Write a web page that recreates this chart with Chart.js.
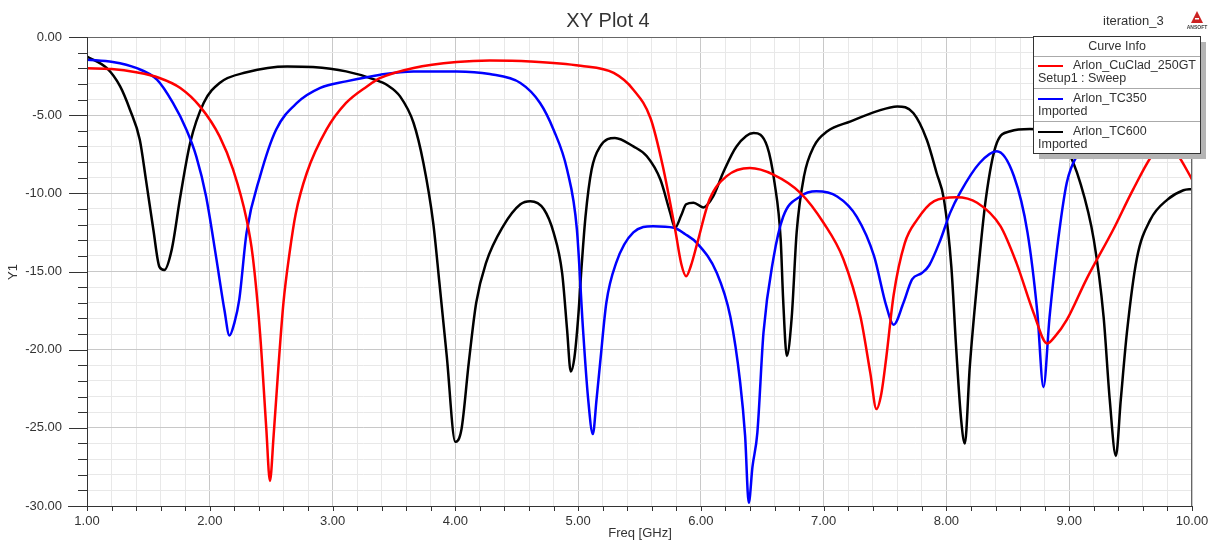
<!DOCTYPE html>
<html>
<head>
<meta charset="utf-8">
<script src="https://cdn.jsdelivr.net/npm/chart.js@4.4.1/dist/chart.umd.min.js"></script>
<style>
html,body{margin:0;padding:0;background:#fff;}
#wrap{width:1212px;height:541px;position:relative;}
</style>
</head>
<body>
<div id="wrap"><canvas id="c" width="1212" height="541"></canvas></div>
<script>
// ---- data (Freq [GHz], Y1 [dB]) ----
const redFreq = [1.0,1.2,1.4,1.59,1.76,1.92,2.08,2.19,2.30,2.35,2.41,2.46,2.49,2.52,2.56,2.60,2.65,2.70,2.79,2.95,3.11,3.28,3.39,3.66,4.01,4.28,4.61,5.02,5.29,5.45,5.59,5.69,5.79,5.84,5.88,5.92,5.97,6.07,6.21,6.40,6.59,6.81,7.00,7.16,7.30,7.38,7.43,7.47,7.51,7.57,7.66,7.76,7.90,8.08,8.25,8.44,8.57,8.71,8.82,8.88,8.98,9.14,9.36,9.52,9.71,9.80,9.88,10.0];
const redVals = [-2.0,-2.05,-2.26,-2.62,-3.26,-4.44,-6.36,-8.49,-11.68,-14.03,-19.0,-25.0,-28.4,-25.5,-21.0,-17.0,-13.8,-11.3,-8.7,-5.93,-4.22,-3.16,-2.62,-1.98,-1.6,-1.5,-1.56,-1.84,-2.3,-3.37,-5.2,-8.27,-12.3,-14.5,-15.3,-14.6,-13.2,-10.4,-8.9,-8.38,-8.8,-9.97,-11.9,-14.2,-17.9,-21.5,-23.8,-22.8,-20.5,-16.5,-13.2,-11.7,-10.5,-10.25,-10.6,-12.1,-14.45,-17.65,-19.6,-19.2,-18.1,-15.5,-12.3,-9.76,-7.2,-6.9,-7.5,-9.1];

const blueFreq = [1.0,1.21,1.40,1.57,1.70,1.81,1.89,1.97,2.05,2.12,2.16,2.20,2.24,2.30,2.41,2.54,2.71,2.90,3.11,3.39,3.66,4.01,4.28,4.53,4.69,4.80,4.91,4.99,5.04,5.08,5.12,5.15,5.18,5.23,5.31,5.45,5.61,5.78,5.87,5.97,6.13,6.24,6.32,6.36,6.39,6.42,6.46,6.51,6.59,6.67,6.81,6.94,7.11,7.27,7.41,7.51,7.57,7.65,7.72,7.80,7.86,7.95,8.03,8.11,8.27,8.41,8.55,8.66,8.74,8.79,8.84,8.90,8.98,9.09,9.20,9.35,9.60,10.0];
const blueVals = [-1.45,-1.6,-1.98,-2.73,-4.22,-5.93,-7.63,-10.2,-14.0,-17.5,-19.1,-18.3,-16.8,-12.5,-8.9,-5.93,-4.22,-3.26,-2.84,-2.41,-2.2,-2.2,-2.37,-2.94,-4.22,-5.93,-8.48,-12.3,-18.7,-23.0,-25.4,-23.2,-20.8,-17.0,-14.45,-12.5,-12.1,-12.2,-12.6,-13.2,-15.1,-17.9,-22.1,-25.5,-29.8,-27.5,-25.3,-18.9,-14.2,-11.5,-10.2,-9.87,-10.2,-11.5,-14.0,-17.2,-18.4,-17.0,-15.5,-15.1,-14.6,-13.0,-11.25,-9.97,-8.06,-7.31,-8.91,-12.5,-17.6,-22.4,-17.9,-13.6,-9.33,-7.2,-5.5,-4.0,-3.2,-3.0];

const blackFreq = [1.0,1.16,1.27,1.35,1.43,1.48,1.54,1.59,1.63,1.69,1.76,1.84,1.95,2.08,2.30,2.63,2.84,3.11,3.33,3.45,3.55,3.66,3.74,3.82,3.87,3.93,4.00,4.05,4.11,4.17,4.25,4.39,4.53,4.61,4.72,4.80,4.87,4.91,4.94,4.97,5.00,5.03,5.06,5.11,5.18,5.30,5.45,5.56,5.67,5.75,5.79,5.84,5.88,5.94,6.02,6.10,6.18,6.29,6.43,6.54,6.60,6.65,6.67,6.70,6.74,6.78,6.84,6.92,7.03,7.22,7.43,7.60,7.73,7.84,7.92,7.98,8.04,8.08,8.12,8.15,8.19,8.25,8.32,8.41,8.52,8.68,8.85,8.97,9.09,9.20,9.28,9.33,9.38,9.42,9.47,9.55,9.66,9.80,9.93,10.0];
const blackVals = [-1.25,-1.98,-3.16,-4.65,-6.57,-9.12,-12.3,-14.7,-14.9,-13.6,-10.2,-6.78,-4.22,-2.94,-2.26,-1.88,-1.92,-2.2,-2.69,-3.1,-3.8,-5.5,-8.06,-11.9,-15.7,-20.4,-25.9,-25.1,-20.8,-17.0,-14.45,-12.1,-10.7,-10.5,-11.0,-12.5,-15.1,-18.7,-21.4,-20.5,-18.0,-14.5,-11.5,-8.48,-7.0,-6.46,-7.0,-7.63,-9.12,-11.25,-12.2,-11.4,-10.7,-10.6,-10.9,-10.2,-8.7,-7.0,-6.14,-7.0,-9.33,-12.96,-16.8,-20.4,-17.9,-12.5,-8.9,-7.0,-6.03,-5.4,-4.76,-4.44,-4.86,-6.57,-8.7,-10.4,-14.7,-20.0,-24.5,-26.0,-21.1,-15.7,-10.4,-6.78,-6.03,-5.88,-6.0,-7.0,-9.33,-12.96,-17.9,-23.2,-26.8,-23.2,-18.9,-14.2,-11.7,-10.4,-9.8,-9.72];

const seriesNames = ['Arlon_CuClad_250GT','Arlon_TC350','Arlon_TC600'];
const seriesSub = ['Setup1 : Sweep','Imported','Imported'];
const seriesColors = ['#ff0000','#0000ff','#000000'];
const yTicks = [0,-5,-10,-15,-20,-25,-30];
const xTicks = [1,2,3,4,5,6,7,8,9,10];

const FONT = '"Liberation Sans", Arial, sans-serif';
const pts = (f, v) => f.map((x, i) => ({x: x, y: v[i]}));
const isInt = v => Math.abs(v - Math.round(v)) < 1e-6;

const decor = {
  id: 'decor',
  afterDraw(chart) {
    const ctx = chart.ctx;
    const a = chart.chartArea;
    const xs = chart.scales.x, ys = chart.scales.y;
    ctx.save();
    // plot frame
    ctx.strokeStyle = '#666';
    ctx.lineWidth = 1;
    ctx.strokeRect(a.left + 0.5, a.top + 0.5, a.right - a.left - 1, a.bottom - a.top);
    // axes
    ctx.strokeStyle = '#333';
    ctx.beginPath();
    ctx.moveTo(a.left + 0.5, a.top); ctx.lineTo(a.left + 0.5, a.bottom + 4);
    ctx.moveTo(a.left - 19, a.bottom + 0.5); ctx.lineTo(a.right, a.bottom + 0.5);
    ctx.stroke();
    // y ticks
    ctx.beginPath();
    for (let v = -30; v <= 0; v += 1) {
      const y = Math.round(ys.getPixelForValue(v)) + 0.5;
      const len = (v % 5 === 0) ? 18 : 9;
      ctx.moveTo(a.left - len, y); ctx.lineTo(a.left, y);
    }
    // x ticks
    for (let i = 0; i <= 45; i++) {
      const f = 1 + i * 0.2;
      const x = Math.round(xs.getPixelForValue(f)) + 0.5;
      ctx.moveTo(x, a.bottom); ctx.lineTo(x, a.bottom + 5);
    }
    ctx.stroke();

    // title & texts
    ctx.fillStyle = '#333';
    ctx.font = '20px ' + FONT;
    ctx.textAlign = 'center'; ctx.textBaseline = 'middle';
    ctx.fillText('XY Plot 4', 608, 21);
    ctx.font = '13px ' + FONT;
    ctx.textAlign = 'left';
    ctx.fillText('iteration_3', 1103, 21);
    ctx.textAlign = 'center';
    ctx.fillText('Freq [GHz]', 640, 533);
    ctx.save();
    ctx.translate(13, 272); ctx.rotate(-Math.PI / 2);
    ctx.fillText('Y1', 0, 0);
    ctx.restore();
    // logo
    ctx.fillStyle = '#cc2222';
    ctx.beginPath();
    ctx.moveTo(1197, 11); ctx.lineTo(1191, 23); ctx.lineTo(1203, 23); ctx.closePath();
    ctx.fill();
    ctx.fillStyle = '#fff';
    ctx.fillRect(1195, 18, 4, 1.5);
    ctx.fillStyle = '#444';
    ctx.font = 'bold 5px ' + FONT;
    ctx.fillText('ANSOFT', 1197, 28);

    // legend
    const L = 1033, T = 36, R = 1200, B = 153;
    ctx.fillStyle = '#b4b4b4';
    ctx.fillRect(L + 6, B, R - L, 6);
    ctx.fillRect(R, T + 6, 6, B - T);
    ctx.fillStyle = '#fff';
    ctx.fillRect(L, T, R - L, B - T);
    ctx.strokeStyle = '#333';
    ctx.strokeRect(L + 0.5, T + 0.5, R - L, B - T);
    ctx.strokeStyle = '#aaa';
    ctx.beginPath();
    [56, 88, 121].forEach(y => { ctx.moveTo(L + 1, y + 0.5); ctx.lineTo(R, y + 0.5); });
    ctx.stroke();
    ctx.fillStyle = '#333';
    ctx.font = '12.5px ' + FONT;
    ctx.textAlign = 'center';
    ctx.fillText('Curve Info', 1117, 46.5);
    const rows = [66, 99, 132];
    rows.forEach((y, i) => {
      ctx.strokeStyle = seriesColors[i];
      ctx.lineWidth = 2;
      ctx.beginPath(); ctx.moveTo(1038, y); ctx.lineTo(1063, y); ctx.stroke();
      ctx.fillStyle = '#333';
      ctx.textAlign = 'left';
      ctx.fillText(seriesNames[i], 1073, y);
      ctx.fillText(seriesSub[i], 1038, y + 13);
    });
    ctx.restore();
  }
};

new Chart(document.getElementById('c'), {
  type: 'line',
  data: {
    datasets: [
      {label: seriesNames[0], data: pts(redFreq, redVals), borderColor: seriesColors[0]},
      {label: seriesNames[1], data: pts(blueFreq, blueVals), borderColor: seriesColors[1]},
      {label: seriesNames[2], data: pts(blackFreq, blackVals), borderColor: seriesColors[2]}
    ].map(d => Object.assign(d, {borderWidth: 2.5, pointRadius: 0, fill: false, cubicInterpolationMode: 'monotone'}))
  },
  options: {
    responsive: false,
    animation: false,
    events: [],
    layout: {padding: {left: 0, top: 37, right: 20, bottom: 0}},
    plugins: {legend: {display: false}, tooltip: {enabled: false}, title: {display: false}},
    scales: {
      x: {
        type: 'linear', min: 1, max: 10,
        afterFit: s => { s.height = 35; s.paddingRight = 0; },
        border: {display: false},
        grid: {drawTicks: false, color: c => isInt(c.tick.value) ? '#c8c8c8' : '#e8e8e8', lineWidth: 1},
        ticks: {
          stepSize: 0.2, autoSkip: false, maxRotation: 0, padding: 8,
          color: '#333', font: {family: FONT, size: 13},
          callback: v => xTicks.some(t => Math.abs(t - v) < 1e-6) ? Number(v).toFixed(2) : ''
        }
      },
      y: {
        type: 'linear', min: -30, max: 0,
        afterFit: s => { s.width = 87; },
        border: {display: false},
        grid: {drawTicks: false, color: c => (Math.round(c.tick.value) % 5 === 0) ? '#c8c8c8' : '#e8e8e8', lineWidth: 1},
        ticks: {
          stepSize: 1, autoSkip: false, padding: 25,
          color: '#333', font: {family: FONT, size: 13},
          callback: v => yTicks.some(t => Math.abs(t - v) < 1e-6) ? Number(v).toFixed(2) : ''
        }
      }
    }
  },
  plugins: [decor]
});
</script>
</body>
</html>
